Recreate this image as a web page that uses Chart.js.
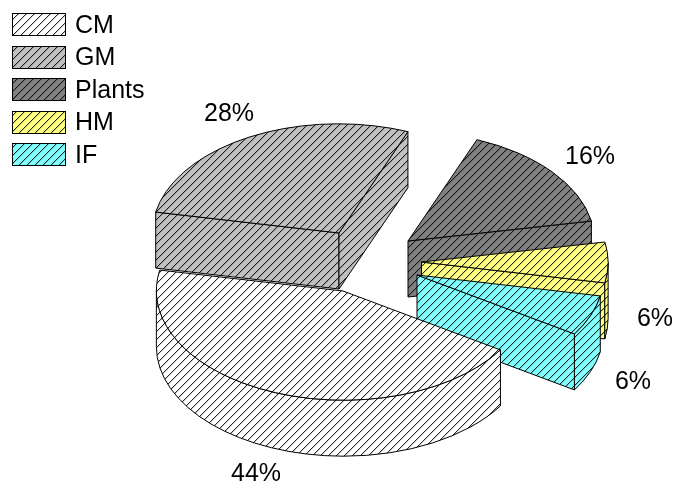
<!DOCTYPE html>
<html>
<head>
<meta charset="utf-8">
<style>
  html, body { margin: 0; padding: 0; background: #fff; }
  canvas { display: block; }
</style>
<script src="https://cdn.jsdelivr.net/npm/chart.js@4"></script>
</head>
<body>
<canvas id="shares" width="675" height="483"></canvas>
<script>
const categories = ['CM', 'GM', 'Plants', 'HM', 'IF'];
const shares = [44, 28, 16, 6, 6];
const sliceColors = ['#ffffff', '#c0c0c0', '#808080', '#ffff80', '#80ffff'];

const FONT = '"Liberation Sans", Arial, sans-serif';

// Diagonal hatch tile on top of a flat colour, one pixel per step so it stays crisp
function hatch(color) {
    const size = 8;
    const tile = document.createElement('canvas');
    tile.width = size;
    tile.height = size;
    const c = tile.getContext('2d');
    c.fillStyle = color;
    c.fillRect(0, 0, size, size);
    for (let k = 0; k < size; k++) {
        c.fillStyle = 'rgba(0,0,0,0.85)';
        c.fillRect(k, size - 1 - k, 1, 1);
        c.fillStyle = 'rgba(0,0,0,0.2)';
        c.fillRect((k + 1) % size, size - 1 - k, 1, 1);
    }
    return document.createElement('canvas').getContext('2d').createPattern(tile, 'repeat');
}

const patterns = sliceColors.map(hatch);

// Draws the pie's arc elements as tilted, pulled-apart discs with a side wall
const tiltedPie = {
    id: 'tiltedPie',
    beforeDatasetsDraw(chart, args, opts) {
        const ctx = chart.ctx;
        const arcs = chart.getDatasetMeta(0).data;
        opts.order.forEach(i => {
            const arc = arcs[i];
            const x = arc.x + opts.shiftX[i];
            const y = arc.y + opts.shiftY[i];
            const r = arc.outerRadius;
            const a0 = arc.startAngle;
            const a1 = arc.endAngle;
            const d = opts.depth;

            // Disc plane on screen, around the slice tip
            const plane = (dy) => new DOMMatrix([1, opts.skewY, opts.skewX, opts.squash, x, y + dy]);
            const edge = (angle, dy) => plane(dy).transformPoint(new DOMPoint(r * Math.cos(angle), r * Math.sin(angle)));
            const traceArc = (from, to, back, dy) => {
                const m = plane(dy);
                ctx.save();
                ctx.transform(m.a, m.b, m.c, m.d, m.e, m.f);
                ctx.arc(0, 0, r, from, to, back);
                ctx.restore();
            };

            ctx.save();
            ctx.lineWidth = 1;
            ctx.strokeStyle = '#000';
            ctx.lineJoin = 'round';
            ctx.fillStyle = patterns[i];

            const face = angle => {
                const p = edge(angle, 0);
                ctx.beginPath();
                ctx.moveTo(x, y);
                ctx.lineTo(p.x, p.y);
                ctx.lineTo(p.x, p.y + d);
                ctx.lineTo(x, y + d);
                ctx.closePath();
                ctx.fill();
                ctx.stroke();
            };
            // Cut faces only show when they turn toward the viewer
            if (Math.cos(a0) < 0) face(a0);
            if (Math.cos(a1) > 0) face(a1);

            // Rim, for the part of the slice on the front half of the ellipse
            const tilt = Math.atan2(opts.skewX, 1);
            [tilt, tilt + 2 * Math.PI].forEach(turn => {
                const from = Math.max(a0, turn);
                const to = Math.min(a1, turn + Math.PI);
                if (to <= from) return;
                ctx.beginPath();
                traceArc(from, to, false, 0);
                traceArc(to, from, true, d);
                ctx.closePath();
                ctx.fill();
                ctx.stroke();
            });

            // Top face: the library's own arc, laid in the plane; hatch kept in screen space
            const m = plane(0).translate(-arc.x, -arc.y);
            patterns[i].setTransform(m.inverse());
            ctx.save();
            ctx.transform(m.a, m.b, m.c, m.d, m.e, m.f);
            arc.draw(ctx);
            ctx.restore();
            patterns[i].setTransform(new DOMMatrix());

            ctx.beginPath();
            ctx.moveTo(x, y);
            traceArc(a0, a1, false, 0);
            ctx.closePath();
            ctx.stroke();
            ctx.restore();
        });
        return false;
    },
    afterDraw(chart, args, opts) {
        const ctx = chart.ctx;
        ctx.save();
        ctx.font = '25px ' + FONT;
        ctx.textBaseline = 'middle';

        // Percent labels
        ctx.fillStyle = '#000';
        ctx.textAlign = 'center';
        shares.forEach((v, i) => {
            ctx.fillText(v + '%', opts.labelX[i], opts.labelY[i]);
        });

        // Legend column
        ctx.textAlign = 'left';
        ctx.lineWidth = 1;
        ctx.strokeStyle = '#000';
        categories.forEach((name, i) => {
            const top = 13 + i * 32.5;
            ctx.fillStyle = patterns[i];
            ctx.fillRect(12.5, Math.round(top) + 0.5, 53, 22);
            ctx.strokeRect(12.5, Math.round(top) + 0.5, 53, 22);
            ctx.fillStyle = '#000';
            ctx.fillText(name, 75, top + 13);
        });
        ctx.restore();
    }
};

new Chart(document.getElementById('shares'), {
    type: 'pie',
    data: {
        labels: categories,
        datasets: [{
            data: shares,
            backgroundColor: patterns,
            borderWidth: 0
        }]
    },
    options: {
        responsive: false,
        animation: false,
        rotation: 120.3,
        radius: 186.5,
        layout: { padding: { left: 5, top: 97 } },
        plugins: {
            legend: { display: false },
            tooltip: { enabled: false },
            tiltedPie: {
                squash: 0.585,
                skewX: -0.038,
                skewY: 0.024,
                depth: 56,
                order: [1, 2, 3, 4, 0],
                shiftX: [3, -1, 68, 81.5, 77],
                shiftY: [1, -57, -49, -28, -15],
                labelX: [256, 229, 590, 655, 633],
                labelY: [474, 114, 157, 319, 382]
            }
        }
    },
    plugins: [tiltedPie]
});
</script>
</body>
</html>
